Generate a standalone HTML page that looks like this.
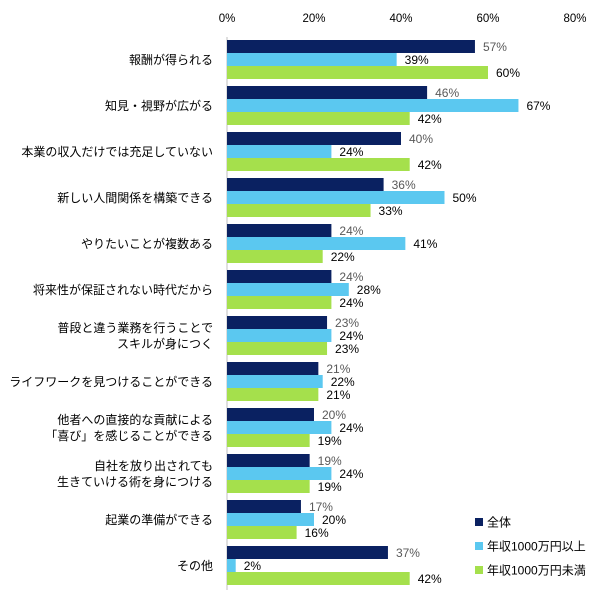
<!DOCTYPE html>
<html><head><meta charset="utf-8"><style>
body{margin:0;background:#fff;}
svg text{font-family:"Liberation Sans","Noto Sans CJK JP",sans-serif;}
</style></head><body>
<svg id="c" width="614" height="605"></svg>
<script>
const categories=["報酬が得られる","知見・視野が広がる","本業の収入だけでは充足していない","新しい人間関係を構築できる","やりたいことが複数ある","将来性が保証されない時代だから","普段と違う業務を行うことで|スキルが身につく","ライフワークを見つけることができる","他者への直接的な貢献による|「喜び」を感じることができる","自社を放り出されても|生きていける術を身につける","起業の準備ができる","その他"];
const allValues=[57,46,40,36,24,24,23,21,20,19,17,37];
const highValues=[39,67,24,50,41,28,24,22,24,24,20,2];
const lowValues=[60,42,42,33,22,24,23,21,19,19,16,42];
const ticks=[0,20,40,60,80];
const seriesNames=["全体","年収1000万円以上","年収1000万円未満"];
const colors=["#0a2161","#5bc8f0","#a5e04c"];
const labelColors=["#595959","#000","#000"];
const svg=document.getElementById('c');const NS="http://www.w3.org/2000/svg";
const x0=227,scale=4.35,top0=40,pitch=46,bh=13;
const X=v=>x0+v*scale;
function el(t,a,p){const e=document.createElementNS(NS,t);for(const k in a)e.setAttribute(k,a[k]);(p||svg).appendChild(e);return e;}
ticks.forEach(t=>{const e=el('text',{x:X(t),y:22,'text-anchor':'middle','font-size':11.5,fill:'#000'});e.textContent=t+'%';

});
const ax=el('line',{x1:x0,x2:x0,y1:37,y2:590,stroke:'#bfbfbf','stroke-width':1});


const series=[allValues,highValues,lowValues];
categories.forEach((c,i)=>{
 const gy=top0+i*pitch;
 const lines=c.split('|');
 const lt=el('text',{x:213,'text-anchor':'end','font-size':12,fill:'#000'});
 
 
 lines.forEach((l,j)=>{const ts=el('tspan',{x:213,y:gy+24+(j-(lines.length-1)/2)*16},lt);ts.textContent=l;});
 series.forEach((s,k)=>{
  const y=gy+k*bh;
  const r=el('rect',{x:x0,y:y,width:s[i]*scale,height:bh,fill:colors[k]});
  
  
  const t=el('text',{x:X(s[i])+8,y:y+11,'font-size':12,fill:labelColors[k]});
  t.textContent=s[i]+'%';
  
  
 });
});
seriesNames.forEach((n,k)=>{
 const y=518+k*24;
 const r=el('rect',{x:475,y:y,width:8,height:8,fill:colors[k]});
 
 
 const t=el('text',{x:487,y:y+8.5,'font-size':12,fill:'#000'});t.textContent=n;
 
 
});
</script>
</body></html>
